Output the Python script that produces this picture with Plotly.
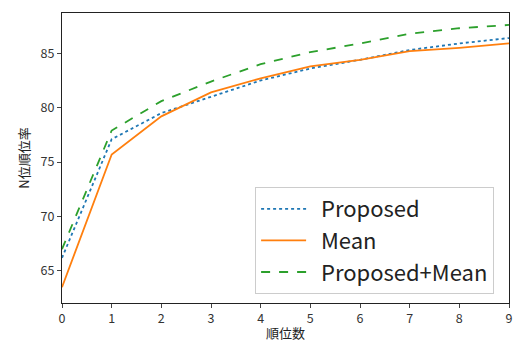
import plotly.graph_objects as go

ranks = [0, 1, 2, 3, 4, 5, 6, 7, 8, 9]
proposed = [66.2, 77.1, 79.5, 81.0, 82.5, 83.6, 84.4, 85.3, 85.9, 86.4]
mean = [63.5, 75.7, 79.2, 81.4, 82.7, 83.8, 84.4, 85.2, 85.5, 85.9]
proposed_mean = [67.0, 77.9, 80.6, 82.4, 84.0, 85.1, 85.9, 86.8, 87.3, 87.6]
series_names = ["Proposed", "Mean", "Proposed+Mean"]

x_ticks = list(range(10))
y_ticks = [65, 70, 75, 80, 85]

FONT = "Noto Sans CJK JP"
PAD = "\u00a0\u00a0"

fig = go.Figure()
fig.add_trace(go.Scatter(x=ranks, y=proposed, mode="lines", name=PAD + series_names[0],
                         line=dict(color="#1f77b4", width=1.8, dash="dot")))
fig.add_trace(go.Scatter(x=ranks, y=mean, mode="lines", name=PAD + series_names[1],
                         line=dict(color="#ff7f0e", width=1.8)))
fig.add_trace(go.Scatter(x=ranks, y=proposed_mean, mode="lines", name=PAD + series_names[2],
                         line=dict(color="#2ca02c", width=1.8, dash="dash")))

fig.update_layout(
    width=515, height=343,
    margin=dict(l=62, r=6, t=13, b=40),
    paper_bgcolor="white", plot_bgcolor="white",
    font=dict(family=FONT, color="#222", size=12),
    showlegend=True,
    legend=dict(x=0.432, y=0.40, xanchor="left", yanchor="top",
                bgcolor="rgba(255,255,255,0.8)", bordercolor="#ccc", borderwidth=1,
                itemwidth=45,
                font=dict(size=22, family=FONT, color="#222")),
    xaxis=dict(range=[0, 9], tickvals=x_ticks, ticks="outside", ticklen=4,
               showline=True, linecolor="#222", linewidth=1, mirror=True,
               showgrid=False, zeroline=False, automargin=False,
               ticklabeloverflow="allow",
               tickfont=dict(size=12.5, color="#333"),
               title=dict(text="順位数", font=dict(size=13), standoff=2)),
    yaxis=dict(range=[62.05, 88.7], tickvals=y_ticks, ticks="outside", ticklen=4,
               showline=True, linecolor="#222", linewidth=1, mirror=True,
               showgrid=False, zeroline=False, automargin=False,
               tickfont=dict(size=12.5, color="#333"),
               title=dict(text="N位順位率", font=dict(size=13), standoff=8)),
)

fig.write_html("out.html", config={"displayModeBar": False},
               post_script="document.body.style.margin='0';document.body.style.overflow='hidden';")
